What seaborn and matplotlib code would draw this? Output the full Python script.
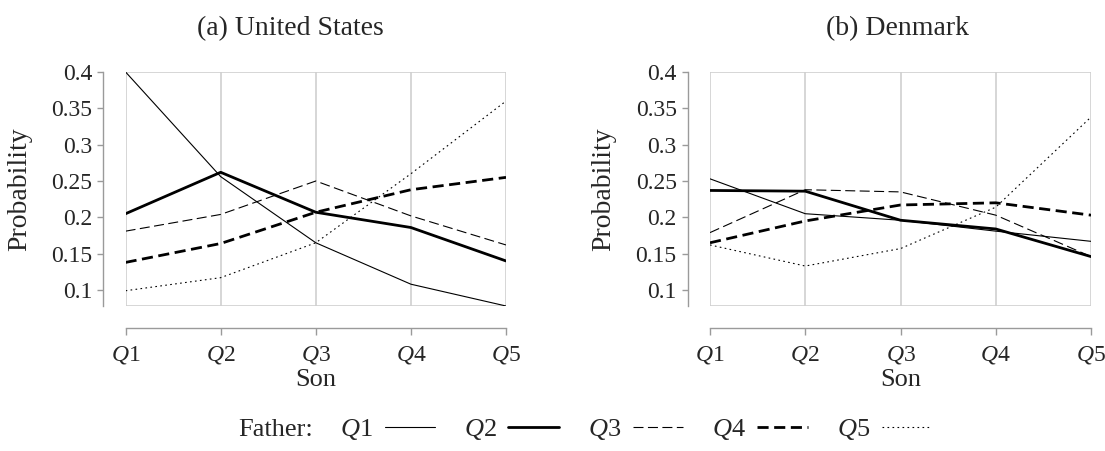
import numpy as np
import pandas as pd
import matplotlib
matplotlib.use("Agg")
import matplotlib.pyplot as plt
from matplotlib.lines import Line2D
import seaborn as sns

quintiles = ["Q1", "Q2", "Q3", "Q4", "Q5"]
tick_labels = [r"$Q$1", r"$Q$2", r"$Q$3", r"$Q$4", r"$Q$5"]
fathers = ["Q1", "Q2", "Q3", "Q4", "Q5"]

us_q1 = [0.400, 0.256, 0.165, 0.108, 0.078]
us_q2 = [0.205, 0.262, 0.207, 0.186, 0.140]
us_q3 = [0.181, 0.204, 0.250, 0.202, 0.162]
us_q4 = [0.138, 0.164, 0.207, 0.238, 0.255]
us_q5 = [0.099, 0.117, 0.165, 0.260, 0.360]

dk_q1 = [0.253, 0.205, 0.196, 0.181, 0.167]
dk_q2 = [0.237, 0.236, 0.196, 0.184, 0.146]
dk_q3 = [0.179, 0.238, 0.235, 0.203, 0.146]
dk_q4 = [0.165, 0.195, 0.217, 0.220, 0.203]
dk_q5 = [0.162, 0.133, 0.157, 0.214, 0.338]

yticks = [0.1, 0.15, 0.2, 0.25, 0.3, 0.35, 0.4]
ytick_labels = ["0.1", "0.15", "0.2", "0.25", "0.3", "0.35", "0.4"]

sns.set_theme(style="white")
plt.rcParams["font.family"] = ["Liberation Serif", "DejaVu Serif"]
plt.rcParams["mathtext.fontset"] = "custom"
plt.rcParams["mathtext.it"] = "Liberation Serif:italic"
plt.rcParams["mathtext.rm"] = "Liberation Serif"

styles = {
    "Q1": dict(lw=0.8, ls="-"),
    "Q2": dict(lw=2.0, ls="-"),
    "Q3": dict(lw=0.8, ls=(0, (9, 4))),
    "Q4": dict(lw=2.0, ls=(0, (4, 2))),
    "Q5": dict(lw=0.8, ls=(0, (1.5, 3))),
}

W, H = 1105, 451
fig = plt.figure(figsize=(W / 100, H / 100), dpi=100)
ax1 = fig.add_axes([125.6 / W, 1 - 306 / H, 380.4 / W, 234 / H])
ax2 = fig.add_axes([710 / W, 1 - 306 / H, 381 / W, 234 / H])

panels = [
    (ax1, "(a) United States", [us_q1, us_q2, us_q3, us_q4, us_q5], 290),
    (ax2, "(b) Denmark", [dk_q1, dk_q2, dk_q3, dk_q4, dk_q5], 898),
]

GRID = "#cfcfcf"
SPINE = "#9a9a9a"
for ax, title, series, tx in panels:
    for f, vals in zip(fathers, series):
        df = pd.DataFrame({"x": np.arange(len(quintiles)), "y": vals})
        sns.lineplot(data=df, x="x", y="y", ax=ax, color="black",
                     linewidth=styles[f]["lw"], linestyle=styles[f]["ls"],
                     zorder=3)
    ax.set_xlim(0, 4)
    ax.set_ylim(0.078, 0.4)
    ax.set_xticks(range(5))
    ax.set_xticklabels(tick_labels)
    ax.set_yticks(yticks)
    ax.set_yticklabels(ytick_labels)
    ax.xaxis.grid(True, color=GRID, lw=1.2, zorder=0)
    ax.yaxis.grid(False)
    ax.axhline(0.4, color=GRID, lw=1.2, zorder=0)
    ax.axhline(0.078, color=GRID, lw=1.2, zorder=0)
    for s in ["top", "right"]:
        ax.spines[s].set_visible(False)
    ax.spines["left"].set_position(("outward", 16))
    ax.spines["bottom"].set_position(("outward", 16))
    for s in ["left", "bottom"]:
        ax.spines[s].set_color(SPINE)
        ax.spines[s].set_linewidth(1)
    ax.tick_params(axis="y", length=4, width=1, color=SPINE, direction="out",
                   pad=4, labelsize=17, left=True)
    ax.tick_params(axis="x", length=5, width=1, color=SPINE, direction="out",
                   pad=6, labelsize=17, bottom=True)
    ax.set_xlabel("Son", fontsize=19)
    ax.set_ylabel("Probability", fontsize=20)
    ax.yaxis.set_label_coords(-0.245, 0.5)
    ax.xaxis.set_label_coords(0.5, -0.27)
    ax.xaxis.label.set_va("top")
    fig.text(tx / W, 1 - 35 / H, title, fontsize=20, ha="center",
             va="baseline")

fig.text(238 / W, 1 - 430 / H, "Father:", fontsize=19, ha="left",
         va="center")

handles = []
labels = []
for f in fathers:
    handles.append(Line2D([], [], color="black", linewidth=styles[f]["lw"],
                          linestyle=styles[f]["ls"]))
    labels.append(r"$Q$" + f[1])

leg = fig.legend(handles, labels, loc="center left",
                 bbox_to_anchor=(340 / W, 1 - 430 / H),
                 ncol=5, frameon=False, fontsize=19, markerfirst=False,
                 handlelength=1.9, handletextpad=0.45, columnspacing=1.1,
                 borderpad=0, borderaxespad=0)

fig.savefig("out.png", dpi=100)
